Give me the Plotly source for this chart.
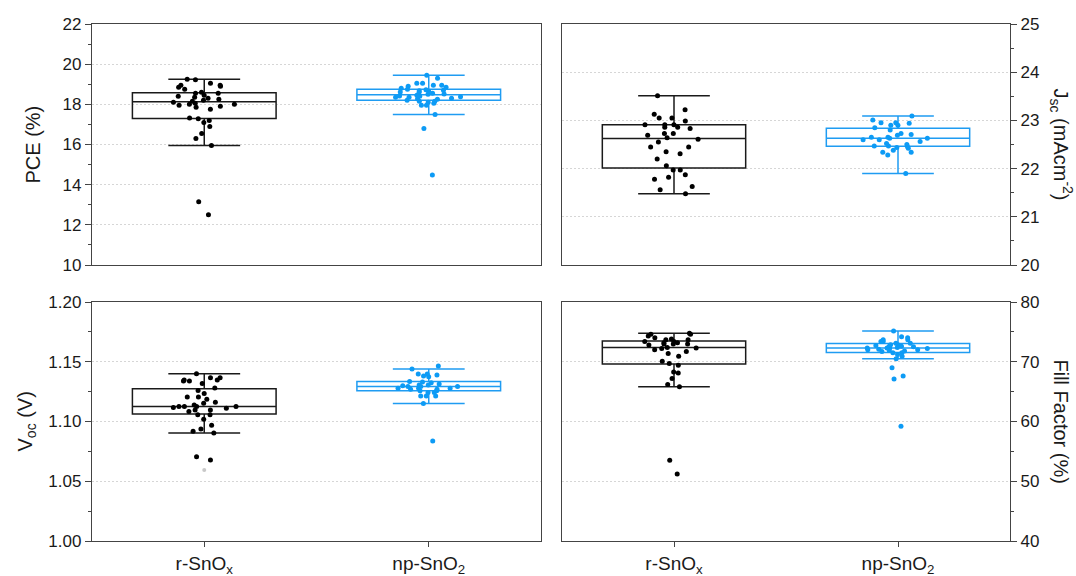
import plotly.graph_objects as go

categories = ["r-SnO<sub>x</sub>", "np-SnO<sub>2</sub>"]

pce_r = [19.25, 19.22, 19.05, 18.95, 18.95, 18.9, 18.85, 18.75, 18.6, 18.55, 18.55, 18.45,
         18.4, 18.35, 18.3, 18.25, 18.2, 18.15, 18.1, 18.05, 18.0, 18.0, 17.95, 17.9, 17.85,
         17.75, 17.32, 17.28, 17.2, 17.1, 16.9, 16.55, 16.3, 15.95, 13.15, 12.5]
pce_np = [19.45, 19.3, 19.05, 19.05, 18.95, 18.95, 18.9, 18.85, 18.8, 18.75, 18.72, 18.7,
          18.68, 18.65, 18.62, 18.6, 18.55, 18.52, 18.5, 18.45, 18.42, 18.4, 18.38, 18.35,
          18.35, 18.3, 18.28, 18.25, 18.2, 18.15, 18.15, 18.1, 18.05, 17.95, 17.95, 17.5,
          16.8, 14.48]

jsc_r = [23.51, 23.22, 23.13, 23.05, 23.05, 22.99, 22.91, 22.91, 22.91, 22.86, 22.86, 22.83,
         22.73, 22.73, 22.69, 22.64, 22.61, 22.55, 22.45, 22.45, 22.35, 22.31, 22.2, 22.06,
         21.97, 21.97, 21.87, 21.82, 21.78, 21.63, 21.56, 21.48]
jsc_np = [23.09, 23.01, 22.95, 22.95, 22.94, 22.9, 22.9, 22.85, 22.8, 22.73, 22.71, 22.69,
          22.65, 22.65, 22.63, 22.63, 22.6, 22.6, 22.56, 22.52, 22.5, 22.47, 22.47, 22.46,
          22.44, 22.42, 22.38, 22.34, 22.34, 22.28, 21.9]

voc_r = [1.1400, 1.1367, 1.1367, 1.1347, 1.1347, 1.1339, 1.1339, 1.1319, 1.1280, 1.1260,
         1.1234, 1.1206, 1.1206, 1.1186, 1.1161, 1.1153, 1.1139, 1.1125, 1.1125, 1.1125,
         1.1125, 1.1117, 1.1111, 1.1097, 1.1097, 1.1083, 1.1057, 1.1057, 1.1018, 1.0968,
         1.0937, 1.0918, 1.0904, 1.0706, 1.0678]
voc_r_faint = [1.0594]
voc_np = [1.1464, 1.1440, 1.1397, 1.1397, 1.1389, 1.1381, 1.1375, 1.1335, 1.1330, 1.1325,
          1.1314, 1.1306, 1.1306, 1.1300, 1.1292, 1.1292, 1.1292, 1.1278, 1.1278, 1.1278,
          1.1269, 1.1269, 1.1258, 1.1258, 1.1242, 1.1242, 1.1214, 1.1214, 1.1214, 1.1150,
          1.0837]

ff_r = [74.75, 74.6, 74.6, 74.3, 74.0, 73.8, 73.7, 73.7, 73.4, 73.4, 73.2, 73.2, 72.95,
        72.95, 72.95, 72.8, 72.3, 72.4, 72.2, 72.0, 71.7, 71.4, 70.9, 70.1, 69.7, 69.4,
        68.3, 68.1, 67.2, 66.2, 65.8, 53.5, 51.2]
ff_np = [75.15, 74.2, 74.0, 73.7, 73.7, 73.4, 73.4, 73.1, 73.1, 72.85, 72.85, 72.7, 72.6,
         72.6, 72.5, 72.4, 72.3, 72.3, 72.3, 72.2, 72.1, 72.0, 72.0, 71.9, 71.8, 71.7, 71.5,
         71.5, 71.2, 70.9, 70.5, 69.0, 67.6, 67.1, 59.2]

BLACK = "#1a1a1a"
BLACK_PT = "#000000"
BLUE = "#1f9cf2"
BLUE_PT = "#0d9bf5"
AXIS = "#444444"
FONT = "Liberation Sans, Arial, sans-serif"

W, H = 1076, 576
fig = go.Figure()

panels = [
    (pce_r, pce_np, "x", "y"),
    (jsc_r, jsc_np, "x2", "y2"),
    (voc_r, voc_np, "x3", "y3"),
    (ff_r, ff_np, "x4", "y4"),
]
for r_vals, np_vals, xa, ya in panels:
    for vals, cat, lc, mc in [(r_vals, categories[0], BLACK, BLACK_PT),
                               (np_vals, categories[1], BLUE, BLUE_PT)]:
        fig.add_trace(go.Box(
            x=[cat] * len(vals), y=vals, xaxis=xa, yaxis=ya,
            boxpoints="all", jitter=0.5, pointpos=0, width=0.64, whiskerwidth=0.5,
            line=dict(color=lc, width=1.5), fillcolor="rgba(255,255,255,0)",
            marker=dict(color=mc, size=5), quartilemethod="linear",
            showlegend=False, hoverinfo="y"))

fig.add_trace(go.Scatter(
    x=[categories[0]] * len(voc_r_faint), y=voc_r_faint, xaxis="x3", yaxis="y3",
    mode="markers", marker=dict(color="#c8c8c8", size=4), showlegend=False))

xdom_l = [92 / W, 541 / W]
xdom_r = [562 / W, 1010 / W]
ydom_t = [1 - 265 / H, 1 - 24 / H]
ydom_b = [1 - 541 / H, 1 - 302 / H]

def xaxis(dom, anchor, show_ticks):
    return dict(domain=dom, anchor=anchor, type="category", automargin=False,
                categoryorder="array", categoryarray=categories,
                range=[-0.5, 1.5], showline=True, mirror=True, linecolor=AXIS,
                linewidth=1.3, showgrid=False, zeroline=False,
                ticks="outside" if show_ticks else "", ticklen=5, tickwidth=1.3,
                tickcolor=AXIS, showticklabels=show_ticks,
                tickfont=dict(size=19, color="#1a1a1a", family=FONT))

def yaxis(dom, anchor, rng, dtick, fmt, side):
    return dict(domain=dom, anchor=anchor, range=rng, dtick=dtick, tick0=rng[0],
                automargin=False,
                tickformat=fmt, side=side, showline=True, mirror=True,
                linecolor=AXIS, linewidth=1.3, ticks="outside", ticklen=6,
                tickwidth=1.3, tickcolor=AXIS,
                minor=dict(ticks="outside", ticklen=3, tickwidth=1.2, tickcolor=AXIS,
                           dtick=dtick / 2, showgrid=False),
                showgrid=True, gridcolor="#d6d6d6", griddash="2px,2px", gridwidth=1,
                zeroline=False,
                tickfont=dict(size=17, color="#1a1a1a", family=FONT))

fig.update_layout(
    template="none",
    width=W, height=H, autosize=False,
    margin=dict(l=0, r=0, t=0, b=0, pad=0, autoexpand=False),
    paper_bgcolor="white", plot_bgcolor="white",
    font=dict(family=FONT, color="#1a1a1a"),
    boxmode="overlay",
    xaxis=xaxis(xdom_l, "y", False),
    yaxis=yaxis(ydom_t, "x", [10, 22], 2, "d", "left"),
    xaxis2=xaxis(xdom_r, "y2", False),
    yaxis2=yaxis(ydom_t, "x2", [20, 25], 1, "d", "right"),
    xaxis3=xaxis(xdom_l, "y3", True),
    yaxis3=yaxis(ydom_b, "x3", [1.0, 1.2], 0.05, ".2f", "left"),
    xaxis4=xaxis(xdom_r, "y4", True),
    yaxis4=yaxis(ydom_b, "x4", [40, 80], 10, "d", "right"),
)

ymid_t = (ydom_t[0] + ydom_t[1]) / 2
ymid_b = (ydom_b[0] + ydom_b[1]) / 2
titles = [
    ("PCE (%)", 32 / W, ymid_t, -90),
    ("V<sub>oc</sub> (V)", 26 / W, ymid_b, -90),
    ("J<sub>sc</sub> (mAcm<sup>-2</sup>)", 1061 / W, ymid_t, 90),
    ("Fill Factor (%)", 1061 / W, ymid_b, 90),
]
for text, x, y, ang in titles:
    fig.add_annotation(text=text, x=x, y=y, xref="paper", yref="paper",
                       xanchor="center", yanchor="middle", showarrow=False,
                       textangle=ang, font=dict(size=20, color="#1a1a1a", family=FONT))

fig.write_html("out.html",
               config={"displayModeBar": False},
               post_script="document.body.style.margin='0';"
                           "document.body.style.overflow='hidden';")
